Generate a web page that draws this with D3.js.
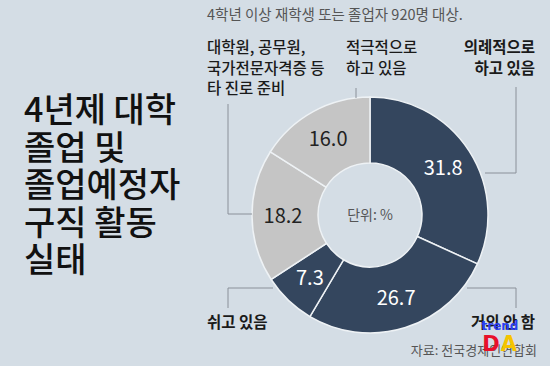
<!DOCTYPE html>
<html>
<head>
<meta charset="utf-8">
<script src="https://cdn.jsdelivr.net/npm/d3@7"></script>
<style>
  body { margin: 0; background: #d4dde5; }
  svg { display: block; font-family: "Noto Sans CJK KR", "Noto Sans", sans-serif; }
</style>
</head>
<body>
<svg id="chart"></svg>
<script>
// data, clockwise from 12 o'clock
const categories = ["의례적으로 하고 있음", "거의 안 함", "쉬고 있음", "대학원, 공무원, 국가전문자격증 등 타 진로 준비", "적극적으로 하고 있음"];
const values = [31.8, 26.7, 7.3, 18.2, 16.0];
const groups = ["dark", "dark", "dark", "light", "light"];
const titleLines = ["4년제 대학", "졸업 및", "졸업예정자", "구직 활동", "실태"];

const width = 550, height = 366;
const cx = 370, cy = 215, outerR = 118, innerR = 52;

const svg = d3.select("#chart")
    .attr("width", width)
    .attr("height", height);

svg.append("rect").attr("width", width).attr("height", height).attr("fill", "#d4dde5");

// title
svg.append("g").selectAll("text")
    .data(titleLines)
    .join("text")
    .attr("x", 24)
    .attr("y", (d, i) => 122 + i * 37.5)
    .attr("font-size", 34)
    .attr("font-weight", 500)
    .attr("fill", "#111")
    .text(d => d);

svg.append("text")
    .attr("x", 207).attr("y", 20)
    .attr("font-size", 14.5)
    .attr("fill", "#555")
    .text("4학년 이상 재학생 또는 졸업자 920명 대상.");

const color = d3.scaleOrdinal().domain(["dark", "light"]).range(["#34465e", "#c5c5c5"]);

const pie = d3.pie().sort(null).value(d => d.value);
const arcs = pie(values.map((v, i) => ({ value: v, cat: categories[i], group: groups[i] })));
const arc = d3.arc().innerRadius(innerR).outerRadius(outerR);
const labelArc = d3.arc().innerRadius(87).outerRadius(87);

const g = svg.append("g").attr("transform", `translate(${cx},${cy})`);

g.selectAll("path")
    .data(arcs)
    .join("path")
    .attr("d", arc)
    .attr("fill", d => color(d.data.group))
    .attr("stroke", "#eef2f5")
    .attr("stroke-width", 1.5);

g.selectAll(".val")
    .data(arcs)
    .join("text")
    .attr("class", "val")
    .attr("transform", d => `translate(${labelArc.centroid(d)})`)
    .attr("text-anchor", "middle")
    .attr("dy", "0.36em")
    .attr("font-size", 20)
    .attr("fill", d => d.data.group === "dark" ? "#fff" : "#222")
    .text(d => d3.format(".1f")(d.data.value));

g.append("text")
    .attr("text-anchor", "middle")
    .attr("dy", "0.36em")
    .attr("font-size", 14)
    .attr("fill", "#555")
    .text("단위: %");

// leader lines
const lines = [
  [[516, 87], [516, 173], [485, 173]],
  [[356, 88], [356, 98]],
  [[228, 104], [228, 214], [252, 214]],
  [[228, 308], [228, 288], [273, 288]],
  [[516, 308], [516, 288], [467, 288]]
];
svg.append("g").selectAll("path")
    .data(lines)
    .join("path")
    .attr("d", d => d3.line()(d))
    .attr("fill", "none")
    .attr("stroke", "#8a9099")
    .attr("stroke-width", 1);

// category labels
const labels = [
  { lines: ["의례적으로", "하고 있음"], x: 535, y: 53, anchor: "end", weight: 700 },
  { lines: ["적극적으로", "하고 있음"], x: 346, y: 53, anchor: "start", weight: 500 },
  { lines: ["대학원, 공무원,", "국가전문자격증 등", "타 진로 준비"], x: 207, y: 53, anchor: "start", weight: 500 },
  { lines: ["쉬고 있음"], x: 207, y: 328, anchor: "start", weight: 700 },
  { lines: ["거의 안 함"], x: 535, y: 328, anchor: "end", weight: 700 }
];
labels.forEach(l => {
  svg.append("g").selectAll("text")
      .data(l.lines)
      .join("text")
      .attr("x", l.x)
      .attr("y", (d, i) => l.y + i * 20.5)
      .attr("text-anchor", l.anchor)
      .attr("font-size", 15.5)
      .attr("font-weight", l.weight)
      .attr("fill", "#1a1a1a")
      .text(d => d);
});

svg.append("text")
    .attr("x", 537).attr("y", 355)
    .attr("text-anchor", "end")
    .attr("font-size", 13)
    .attr("fill", "#555")
    .text("자료: 전국경제인연합회");

// watermark
const wm = svg.append("g").attr("font-family", "DejaVu Sans, sans-serif").attr("font-weight", 700);
wm.append("text").attr("x", 500).attr("y", 330).attr("text-anchor", "middle")
    .attr("font-size", 12).attr("fill", "#2a3ef0").text("trend");
wm.append("text").attr("x", 491).attr("y", 351).attr("text-anchor", "middle")
    .attr("font-size", 21).attr("fill", "#e8102a").text("D");
wm.append("text").attr("x", 509).attr("y", 351).attr("text-anchor", "middle")
    .attr("font-size", 21).attr("fill", "#f5c400").text("A");
</script>
</body>
</html>
